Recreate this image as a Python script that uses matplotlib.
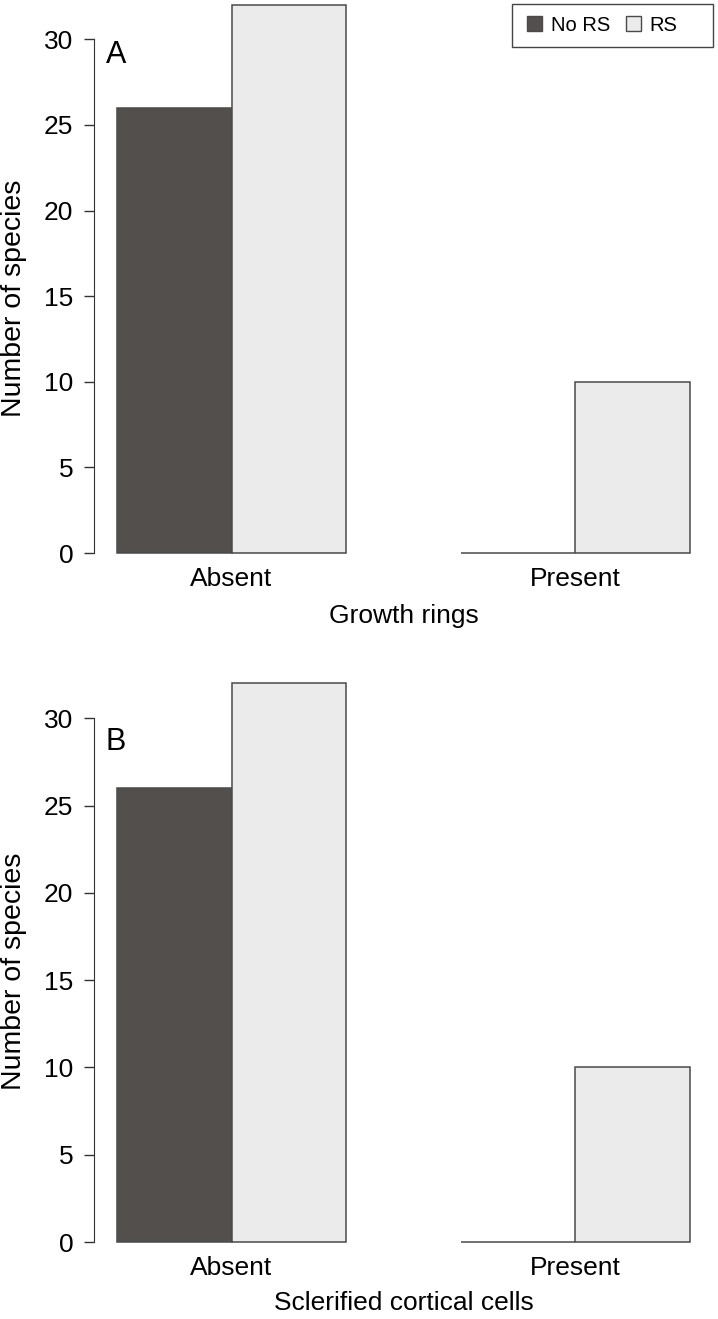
import numpy as np
import matplotlib
matplotlib.use("Agg")
import matplotlib.pyplot as plt
from matplotlib.patches import Patch, Rectangle

plt.rcParams['font.family'] = ['Liberation Sans', 'DejaVu Sans']

# data
groups = ["Absent", "Present"]
series = ["No RS", "RS"]
growth_rings = [[26, 0], [32, 10]]          # [No RS per group, RS per group]
sclerified = [[26, 0], [32, 10]]
panel_labels = ["A", "B"]
xlabels = ["Growth rings", "Sclerified cortical cells"]

colors = ["#534f4d", "#ebebeb"]
edge = "#4a4a4a"

W, H = 718, 1319
fig = plt.figure(figsize=(W / 100, H / 100), dpi=100)

# axes boxes in pixels: left, top, right, bottom
boxes = [(94, -17, 713, 560), (94, 661, 713, 1249)]
label_y = [-0.097, -0.0917]
ylab_y = [0.454, 0.472]
letter_y = [0.875, 0.863]


def barplot(ax, values, letter, xlab, ly, yy, ty, legend=False):
    # R style barplot, beside=TRUE, space=c(0,1)
    n = len(groups)
    pos = []
    for g in range(n):
        start = 1 + g * (len(series) + 1)
        pos.append([start + s for s in range(len(series))])
    for s in range(len(series)):
        xs = [pos[g][s] for g in range(n)]
        ax.bar(xs, [values[s][g] for g in range(n)], width=1, align='edge',
               color=colors[s], edgecolor=edge, linewidth=1.1, clip_on=False)
    ax.set_xlim(0.8, 6.2)
    ax.set_ylim(-0.4, 33.28)
    centers = [p[0] + len(series) / 2 for p in pos]
    ax.set_xticks(centers)
    ax.set_xticklabels(groups)
    ax.tick_params(axis='x', length=0, pad=5, labelsize=19)
    ax.set_yticks([0, 5, 10, 15, 20, 25, 30])
    ax.tick_params(axis='y', length=7, width=1, pad=8, labelsize=19,
                   color="#333333")
    for sp in ["top", "right", "bottom"]:
        ax.spines[sp].set_visible(False)
    ax.spines["left"].set_bounds(0, 30)
    ax.spines["left"].set_color("#333333")
    ax.set_xlabel(xlab, fontsize=19)
    ax.xaxis.set_label_coords(0.5, ly)
    ax.xaxis.label.set_va('center')
    ax.set_ylabel("Number of species", fontsize=20.5)
    ax.yaxis.set_label_coords(-0.129, yy)
    ax.yaxis.label.set_va('center')
    ax.text(0.0355, ty, letter, transform=ax.transAxes, fontsize=22,
            ha='center', va='center')
    if legend:
        # R-like legend box, wider on the right
        ax.add_patch(Rectangle((0.675, 0.889), 0.325, 0.0746,
                               transform=ax.transAxes, facecolor='white',
                               edgecolor="#444444", linewidth=1, zorder=4,
                               clip_on=False))
        handles = [Patch(facecolor=colors[i], edgecolor=edge, linewidth=1)
                   for i in range(len(series))]
        lg = ax.legend(handles, series, ncol=2, loc='center left',
                       bbox_to_anchor=(0.6995, 0.927), borderaxespad=0,
                       fontsize=14.5, handlelength=0.75, handleheight=0.75,
                       handletextpad=0.45, columnspacing=0.75, borderpad=0,
                       frameon=False)
        lg.set_zorder(5)


for i, vals in enumerate([growth_rings, sclerified]):
    l, t, r, b = boxes[i]
    ax = fig.add_axes([l / W, (H - b) / H, (r - l) / W, (b - t) / H])
    ax.patch.set_alpha(0)
    barplot(ax, vals, panel_labels[i], xlabels[i], label_y[i], ylab_y[i],
            letter_y[i], legend=(i == 0))

fig.savefig("out.png", dpi=100)
